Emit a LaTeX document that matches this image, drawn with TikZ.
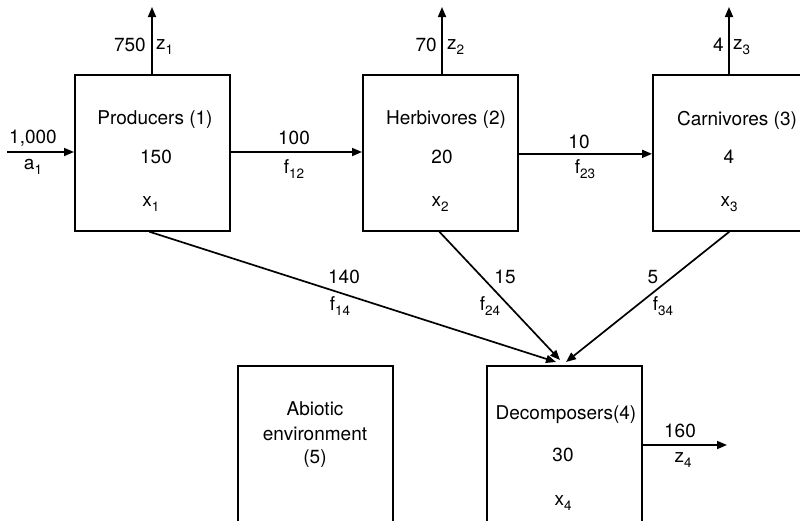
\documentclass[tikz,border=0pt]{standalone}
\usepackage{fontspec}
\setmainfont{TeX Gyre Heros}
\usetikzlibrary{arrows.meta,calc}
\newcommand{\lowsub}[1]{\raisebox{-0.30em}{\fontsize{13.5}{15}\selectfont #1}}
\tikzset{
  every node/.style={font=\fontsize{19}{22}\selectfont, inner sep=0pt},
  compartment/.style={draw, line width=1.7pt, minimum width=155pt, minimum height=156pt, anchor=north west},
  flow/.style={line width=1.7pt, -{Triangle[length=10pt,width=8pt]}},
  lbl/.style={anchor=center},
}
\begin{document}
\begin{tikzpicture}[x=1pt,y=-1pt]
\useasboundingbox (0,0) rectangle (800,520);

% compartments
\node[compartment] (P) at (74,74) {};
\node[compartment] (H) at (362,74) {};
\node[compartment] (C) at (652,74) {};
\node[compartment] (A) at (237,365) {};
\node[compartment] (D) at (486,365) {};

% compartment contents
\node[lbl] (Pn) at (155,120) {Producers (1)};
\node[lbl] (Pv) at (156,157) {150};
\node[lbl] (Px) at (151,204) {x\lowsub{1}};

\node[lbl] (Hn) at (446,120) {Herbivores (2)};
\node[lbl] (Hv) at (442,157) {20};
\node[lbl] (Hx) at (440,204) {x\lowsub{2}};

\node[lbl] (Cn) at (737,120) {Carnivores (3)};
\node[lbl] (Cv) at (729,157) {4};
\node[lbl] (Cx) at (729,204) {x\lowsub{3}};

\node[lbl] (Dn) at (566,415) {Decomposers(4)};
\node[lbl] (Dv) at (563,455) {30};
\node[lbl] (Dx) at (563,503) {x\lowsub{4}};

\node[lbl] (An1) at (315,409) {Abiotic};
\node[lbl] (An2) at (315,434) {environment};
\node[lbl] (An3) at (315,459) {(5)};

% free ends of the connectors
\coordinate (inA) at (7,152);
\coordinate (outP) at (152,7);
\coordinate (outH) at (442,7);
\coordinate (outC) at (729,7);
\coordinate (outD) at (727,445);
\coordinate (d1) at (556,362);
\coordinate (d2) at (560,360);
\coordinate (d3) at (566,362);

% flows
\draw[flow] (inA) -- (inA -| P.west);
\draw[flow] (P.north -| outP) -- (outP);
\draw[flow] (H.north -| outH) -- (outH);
\draw[flow] (C.north -| outC) -- (outC);
\draw[flow] (P.east |- inA) -- (H.west |- inA);
\draw[flow] ($(H.east)+(0,1)$) -- ($(C.west)+(0,1)$);
\draw[flow] (D.east |- outD) -- (outD);
\draw[flow] ($(P.south)+(-3,0)$) -- (d1);
\draw[flow] ($(H.south)+(-1,0)$) -- (d2);
\draw[flow] ($(C.south)+(-1,0)$) -- (d3);

% flow labels
\node[lbl] (la) at (33,138) {1,000};
\node[lbl] (la1) at (33,167) {a\lowsub{1}};
\node[anchor=east] (l750) at (146,45) {750};
\node[anchor=west] (lz1) at (156,47) {z\lowsub{1}};
\node[anchor=east] (l70) at (437,45) {70};
\node[anchor=west] (lz2) at (447,47) {z\lowsub{2}};
\node[anchor=east] (l4) at (724,45) {4};
\node[anchor=west] (lz3) at (733,47) {z\lowsub{3}};
\node[lbl] (l100) at (294,138) {100};
\node[lbl] (lf12) at (294,169) {f\lowsub{12}};
\node[lbl] (l10) at (579,142) {10};
\node[lbl] (lf23) at (585,169) {f\lowsub{23}};
\node[lbl] (l160) at (680,431) {160};
\node[lbl] (lz4) at (683,460) {z\lowsub{4}};
\node[lbl] (l140) at (344,277) {140};
\node[lbl] (lf14) at (340,306) {f\lowsub{14}};
\node[lbl] (l15) at (505,277) {15};
\node[lbl] (lf24) at (490,306) {f\lowsub{24}};
\node[lbl] (l5) at (653,277) {5};
\node[lbl] (lf34) at (663,306) {f\lowsub{34}};
\end{tikzpicture}
\end{document}
